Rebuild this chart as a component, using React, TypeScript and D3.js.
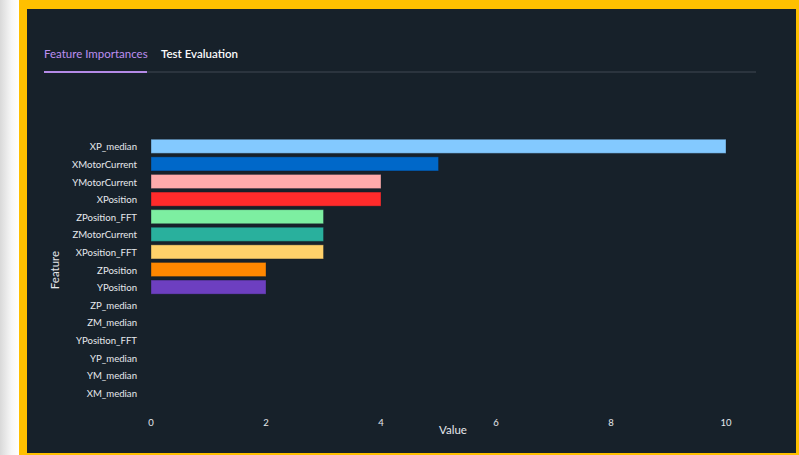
import React from "react";
import * as d3 from "d3";

const features = [
  "XP_median", "XMotorCurrent", "YMotorCurrent", "XPosition", "ZPosition_FFT",
  "ZMotorCurrent", "XPosition_FFT", "ZPosition", "YPosition", "ZP_median",
  "ZM_median", "YPosition_FFT", "YP_median", "YM_median", "XM_median",
];
const values = [10, 5, 4, 4, 3, 3, 3, 2, 2, 0, 0, 0, 0, 0, 0];
const colors = [
  "#83c9ff", "#0068c9", "#ffabab", "#ff2b2b", "#7defa1",
  "#29b09d", "#ffd16a", "#ff8700", "#6d3fc0", "#d5dae5",
  "#83c9ff", "#0068c9", "#ffabab", "#ff2b2b", "#7defa1",
];
const xTicks = [0, 2, 4, 6, 8, 10];
const tabs = ["Feature Importances", "Test Evaluation"];

const W = 799, H = 455;
const FONT = "Lato, 'Noto Sans', sans-serif";

export default function App() {
  const x = d3.scaleLinear().domain([0, 10]).range([151, 726]);
  const y = d3.scaleBand<string>().domain(features).range([137.5, 401.5]).paddingInner(0.2).paddingOuter(0.1);
  const bg = "#17212a";
  return (
    <div style={{ position: "fixed", left: 0, top: 0 }}>
      <svg width={W} height={H} style={{ display: "block" }}>
        <defs>
          <linearGradient id="shadow" x1="0" x2="1" y1="0" y2="0">
            <stop offset="0" stopColor="#d9d9d9" />
            <stop offset="0.6" stopColor="#f7f7f7" />
            <stop offset="1" stopColor="#ffffff" />
          </linearGradient>
        </defs>
        <rect x={0} y={0} width={19} height={H} fill="url(#shadow)" />
        <rect x={19} y={0} width={W - 19} height={H} fill="#ffc000" />
        <rect x={27} y={9} width={769} height={444} fill={bg} />
        {/* tabs */}
        <text x={44} y={58} fill="#bd8ff0" fontFamily={FONT} fontSize={11.5}>{tabs[0]}</text>
        <text x={161} y={58} fill="#fafafa" fontFamily={FONT} fontSize={11.5} fontWeight={600}>{tabs[1]}</text>
        <rect x={147} y={71} width={609} height={2} fill="#2b343e" />
        <rect x={44} y={71} width={103} height={2} fill="#b48ae6" />
        {/* bars */}
        {features.map((f, i) => (
          values[i] > 0 ? (
            <rect key={f} x={x(0)} y={y(f)!} width={x(values[i]) - x(0)} height={y.bandwidth()}
              fill={colors[i]} stroke="rgba(20,30,40,0.35)" strokeWidth={1} />
          ) : null
        ))}
        {features.map((f) => (
          <text key={f} x={137} y={y(f)! + y.bandwidth() / 2 + 0.8} dy="0.35em" textAnchor="end"
            fill="#e6e8ec" fontFamily={FONT} fontSize={9.6}>{f}</text>
        ))}
        {xTicks.map((t) => (
          <text key={t} x={x(t)} y={423} dy="0.35em" textAnchor="middle" fill="#e6e8ec"
            fontFamily={FONT} fontSize={9.5}>{t}</text>
        ))}
        <text x={453} y={430} dy="0.35em" textAnchor="middle" fill="#e6e8ec" fontFamily={FONT} fontSize={11.5}>Value</text>
        <text transform="translate(55,270) rotate(-90)" dy="0.35em" textAnchor="middle" fill="#e6e8ec" fontFamily={FONT} fontSize={11.5}>Feature</text>
      </svg>
    </div>
  );
}
